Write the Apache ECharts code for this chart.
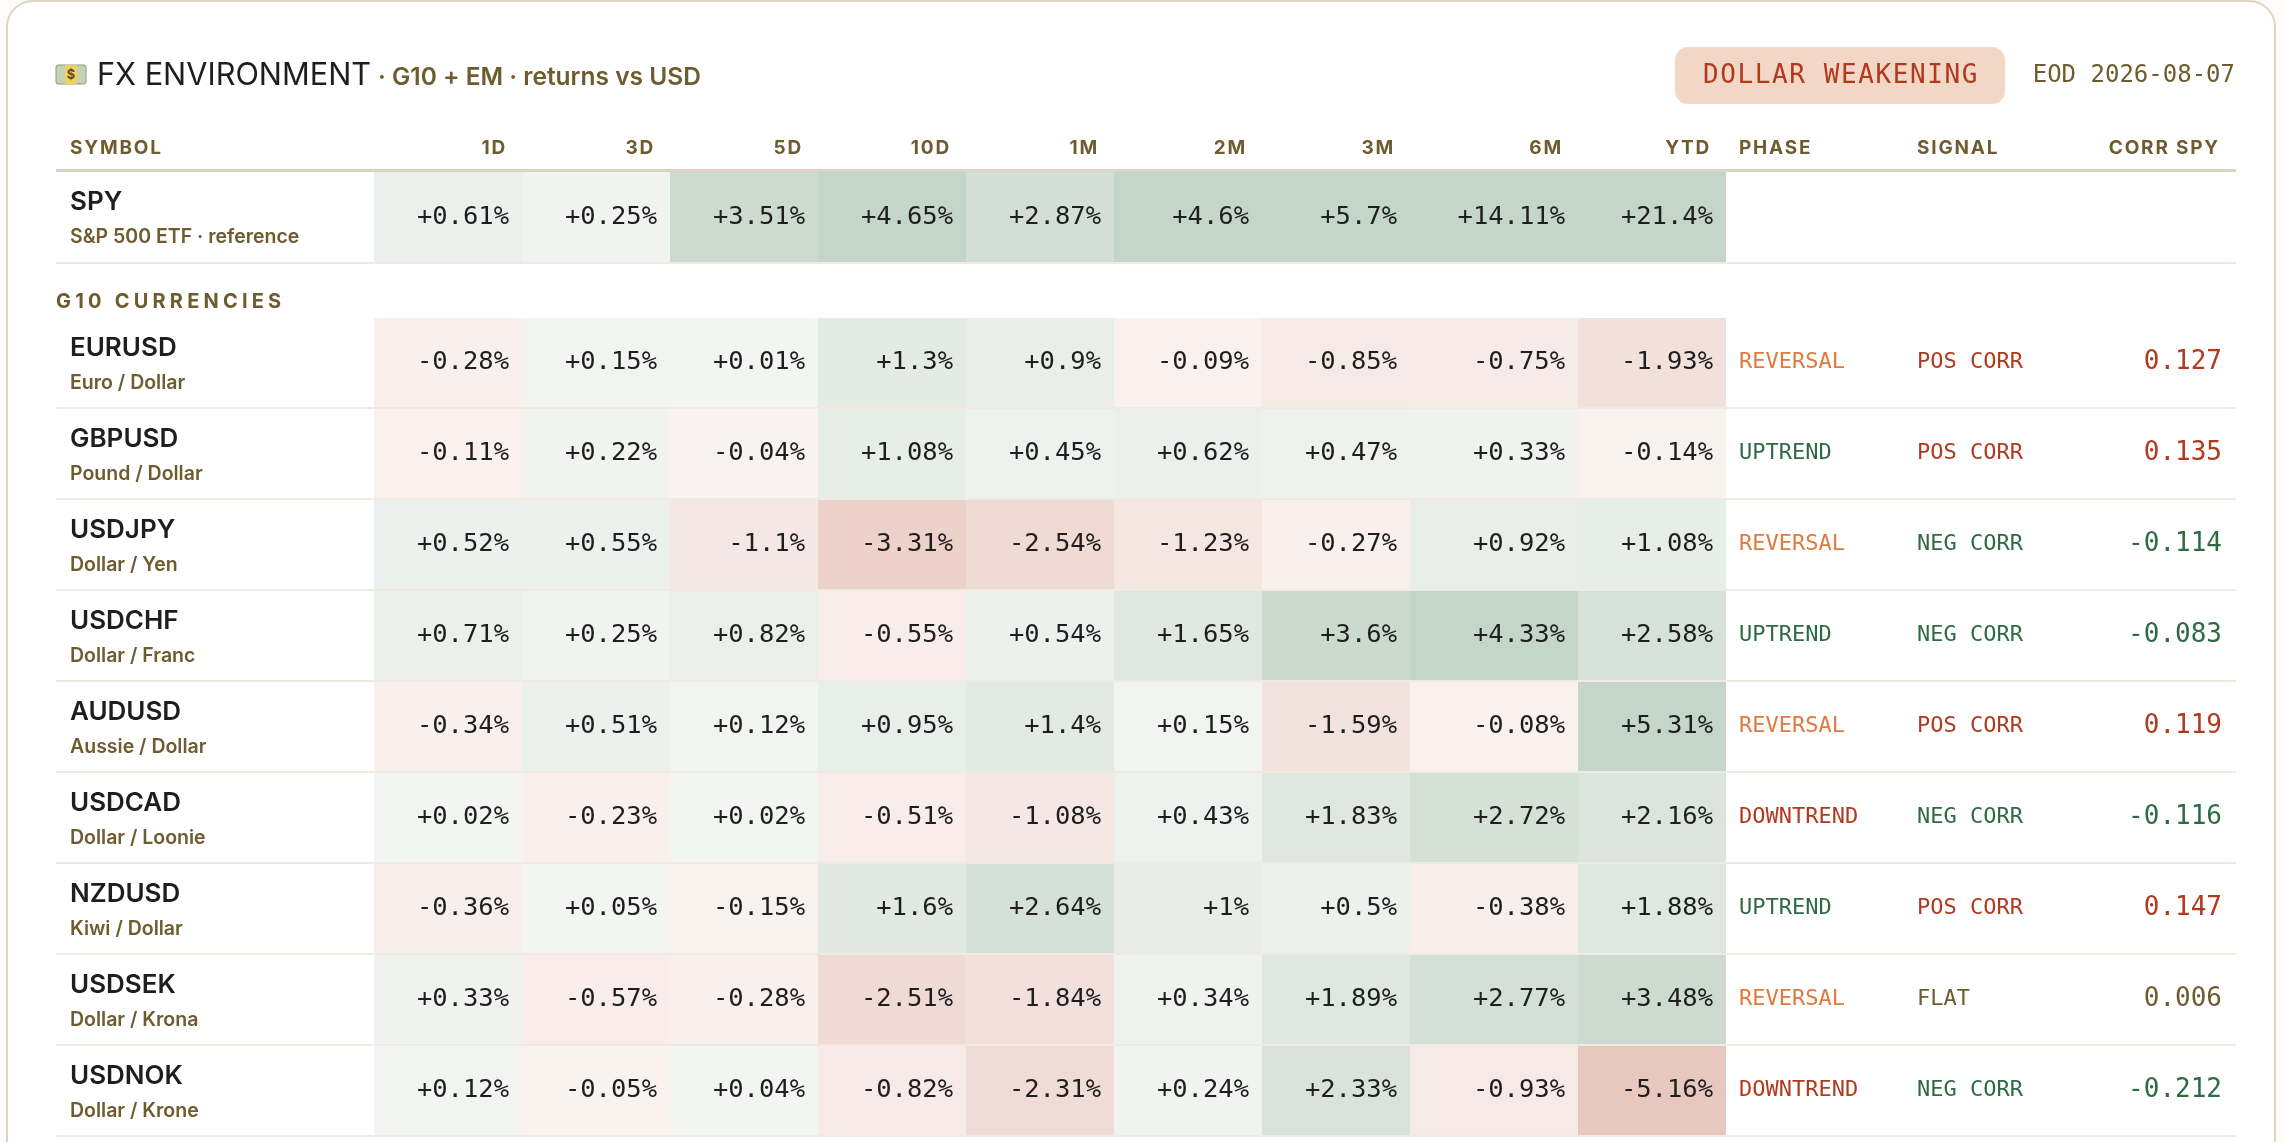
<!DOCTYPE html>
<html>
<head>
<meta charset="utf-8">
<title>FX Environment</title>
<script src="https://cdn.jsdelivr.net/npm/echarts@6/dist/echarts.min.js"></script>
<style>
  html, body { margin: 0; padding: 0; background: #fdfcf9; }
  #fxChart { width: 2284px; height: 1142px; }
</style>
</head>
<body>
<div id="fxChart"></div>
<script>
// ---- data ----
var columns = ['1D', '3D', '5D', '10D', '1M', '2M', '3M', '6M', 'YTD'];
var extraHeads = ['PHASE', 'SIGNAL', 'CORR SPY'];

var spyName = 'SPY';
var spyDesc = 'S&P 500 ETF · reference';
var spyReturns = [0.61, 0.25, 3.51, 4.65, 2.87, 4.6, 5.7, 14.11, 21.4];

var sectionLabel = 'G10 CURRENCIES';
var pairs = ['EURUSD', 'GBPUSD', 'USDJPY', 'USDCHF', 'AUDUSD', 'USDCAD', 'NZDUSD', 'USDSEK', 'USDNOK'];
var pairDesc = ['Euro / Dollar', 'Pound / Dollar', 'Dollar / Yen', 'Dollar / Franc', 'Aussie / Dollar',
    'Dollar / Loonie', 'Kiwi / Dollar', 'Dollar / Krona', 'Dollar / Krone'];
var pairReturns = [
    [-0.28, 0.15, 0.01, 1.3, 0.9, -0.09, -0.85, -0.75, -1.93],
    [-0.11, 0.22, -0.04, 1.08, 0.45, 0.62, 0.47, 0.33, -0.14],
    [0.52, 0.55, -1.1, -3.31, -2.54, -1.23, -0.27, 0.92, 1.08],
    [0.71, 0.25, 0.82, -0.55, 0.54, 1.65, 3.6, 4.33, 2.58],
    [-0.34, 0.51, 0.12, 0.95, 1.4, 0.15, -1.59, -0.08, 5.31],
    [0.02, -0.23, 0.02, -0.51, -1.08, 0.43, 1.83, 2.72, 2.16],
    [-0.36, 0.05, -0.15, 1.6, 2.64, 1, 0.5, -0.38, 1.88],
    [0.33, -0.57, -0.28, -2.51, -1.84, 0.34, 1.89, 2.77, 3.48],
    [0.12, -0.05, 0.04, -0.82, -2.31, 0.24, 2.33, -0.93, -5.16]
];
var phases = ['REVERSAL', 'UPTREND', 'REVERSAL', 'UPTREND', 'REVERSAL', 'DOWNTREND', 'UPTREND', 'REVERSAL', 'DOWNTREND'];
var signals = ['POS CORR', 'POS CORR', 'NEG CORR', 'NEG CORR', 'POS CORR', 'NEG CORR', 'POS CORR', 'FLAT', 'NEG CORR'];
var corrSpy = [0.127, 0.135, -0.114, -0.083, 0.119, -0.116, 0.147, 0.006, -0.212];

var regime = 'DOLLAR WEAKENING';
var asOf = 'EOD 2026-08-07';

// ---- layout (px from table left) ----
var tableLeft = 56, tableWidth = 2180;
var colEdges = [318, 466, 614, 762, 910, 1058, 1206, 1354, 1522, 1670];
var symbolX = 14, phaseX = 1683, signalX = 1861, corrRight = 2166;

var olive = '#6e5c2e', ink = '#1e1e1e';
var phaseColor = { REVERSAL: '#e07a3f', UPTREND: '#2e6b45', DOWNTREND: '#b0391e' };
var signalColor = { 'POS CORR': '#b0391e', 'NEG CORR': '#2e6b45', 'FLAT': olive };

var SANS = 'Inter, "Noto Sans", sans-serif';
var MONO = '"DejaVu Sans Mono", monospace';

// canvas letterSpacing hack: a fake family "lspNN" in the font string = NN/10 px spacing
(function () {
    var proto = CanvasRenderingContext2D.prototype;
    var fill = proto.fillText;
    proto.fillText = function (t, x, y, w) {
        var m = /lsp(\d+)/.exec(this.font);
        if ('letterSpacing' in this) this.letterSpacing = m ? (m[1] / 10) + 'px' : '0px';
        return w === undefined ? fill.call(this, t, x, y) : fill.call(this, t, x, y, w);
    };
})();

function fmtPct(v) { return (v > 0 ? '+' : '') + v + '%'; }

function cellColor(v) {
    var a, b, t;
    if (v >= 0) { t = Math.min(v / 4.2, 1); a = [243, 245, 242]; b = [196, 213, 201]; }
    else { t = Math.min(-v / 4.5, 1); a = [250, 242, 240]; b = [231, 199, 190]; }
    var c = a.map(function (x, i) { return Math.round(x + (b[i] - x) * t); });
    return 'rgb(' + c.join(',') + ')';
}

function txt(text, x, y, font, fill, align) {
    return {
        type: 'text',
        style: {
            text: text, x: x, y: y, font: font, fill: fill,
            align: align || 'left', verticalAlign: 'middle',
            textAlign: align || 'left', textVerticalAlign: 'middle'
        }
    };
}

function renderHeader(params, api) {
    var c = api.coord([0, 0]);
    var h = api.size([0, 1])[1];
    var top = c[1] - h / 2, y = c[1];
    var font = '700 19px lsp18, ' + SANS;
    var kids = [txt('SYMBOL', api.coord([symbolX, 0])[0], y, font, olive)];
    for (var i = 0; i < columns.length; i++) {
        kids.push(txt(columns[i], api.coord([colEdges[i + 1] - 15, 0])[0], y, font, olive, 'right'));
    }
    kids.push(txt(extraHeads[0], api.coord([phaseX, 0])[0], y, font, olive));
    kids.push(txt(extraHeads[1], api.coord([signalX, 0])[0], y, font, olive));
    kids.push(txt(extraHeads[2], api.coord([corrRight - 2, 0])[0], y, font, olive, 'right'));
    kids.push({
        type: 'line',
        shape: { x1: api.coord([0, 0])[0], y1: top + h - 1.5, x2: api.coord([tableWidth, 0])[0], y2: top + h - 1.5 },
        style: { stroke: '#ddd4bf', lineWidth: 3 }
    });
    return { type: 'group', children: kids };
}

function renderCell(params, api) {
    var col = api.value(0), row = api.value(1), v = api.value(2);
    var p0 = api.coord([colEdges[col], row]);
    var p1 = api.coord([colEdges[col + 1], row]);
    var h = api.size([0, 1])[1];
    var top = p0[1] - h / 2;
    return {
        type: 'group',
        children: [
            { type: 'rect', shape: { x: p0[0], y: top, width: p1[0] - p0[0], height: h - 2 }, style: { fill: cellColor(v) } },
            txt(fmtPct(v), p1[0] - 13, top + (h - 2) / 2, '25.5px ' + MONO, ink, 'right')
        ]
    };
}

function rowRenderer(names, descs, withSignals) {
    return function (params, api) {
        var row = api.value(1);
        var c = api.coord([0, row]);
        var h = api.size([0, 1])[1];
        var top = c[1] - h / 2, mid = top + (h - 2) / 2;
        var x0 = c[0];
        var kids = [
            txt(names[row], api.coord([symbolX, row])[0], top + 30, '600 26px ' + SANS, ink),
            txt(descs[row], api.coord([symbolX, row])[0], top + 65, '600 19.5px ' + SANS, olive)
        ];
        if (withSignals) {
            kids.push(txt(phases[row], api.coord([phaseX, row])[0], mid, '22px ' + MONO, phaseColor[phases[row]]));
            kids.push(txt(signals[row], api.coord([signalX, row])[0], mid, '22px ' + MONO, signalColor[signals[row]]));
            kids.push(txt(corrSpy[row].toFixed(3), api.coord([corrRight, row])[0], mid, '26px ' + MONO, signalColor[signals[row]], 'right'));
        }
        kids.push({
            type: 'line',
            shape: { x1: x0, y1: top + h - 1, x2: api.coord([tableWidth, row])[0], y2: top + h - 1 },
            style: { stroke: '#efebe1', lineWidth: 2 }
        });
        return { type: 'group', children: kids };
    };
}

var spyCells = spyReturns.map(function (v, i) { return [i, 0, v]; });
var pairCells = [];
for (var r = 0; r < pairs.length; r++) {
    for (var k = 0; k < columns.length; k++) pairCells.push([k, r, pairReturns[r][k]]);
}

var myChart = echarts.init(document.getElementById('fxChart'), null, { renderer: 'canvas' });

var grids = [
    { left: tableLeft, width: tableWidth, top: 124, height: 48 },
    { left: tableLeft, width: tableWidth, top: 172, height: 92 },
    { left: tableLeft, width: tableWidth, top: 318, height: 91 * pairs.length }
];
var yData = [['head'], [spyName], pairs];

var option = {
    animation: false,
    backgroundColor: '#fdfcf9',
    grid: grids,
    xAxis: grids.map(function (g, i) {
        return { type: 'value', gridIndex: i, min: 0, max: tableWidth, show: false };
    }),
    yAxis: grids.map(function (g, i) {
        return { type: 'category', gridIndex: i, data: yData[i], inverse: true, show: false };
    }),
    graphic: [
        { type: 'rect', z: 0, shape: { x: 7, y: 1, width: 2268, height: 1300, r: 26 },
          style: { fill: '#ffffff', stroke: '#ded5c0', lineWidth: 2 } },
        // banknote icon
        { type: 'rect', z: 1, shape: { x: 56, y: 65, width: 30, height: 19, r: 2 },
          style: { fill: '#c7d1b4', stroke: '#8f9b7b', lineWidth: 1 } },
        { type: 'rect', z: 1, shape: { x: 65, y: 65, width: 12, height: 19 }, style: { fill: '#eed25c' } },
        { type: 'text', z: 2, style: { text: '$', x: 71, y: 75, font: '700 13px ' + SANS, fill: '#5a4a18',
            align: 'center', verticalAlign: 'middle', textAlign: 'center', textVerticalAlign: 'middle' } },
        { type: 'text', z: 1, style: { text: 'FX ENVIRONMENT', x: 97, y: 76, font: '400 30.7px ' + SANS, fill: ink,
            verticalAlign: 'middle', textVerticalAlign: 'middle' } },
        { type: 'text', z: 1, style: { text: '· G10 + EM · returns vs USD', x: 378, y: 78, font: '600 24.5px ' + SANS, fill: olive,
            verticalAlign: 'middle', textVerticalAlign: 'middle' } },
        { type: 'rect', z: 1, shape: { x: 1675, y: 47, width: 330, height: 57, r: 13 }, style: { fill: '#f2d7c6' } },
        { type: 'text', z: 2, style: { text: regime, x: 1841, y: 76, font: '26px lsp16, ' + MONO, fill: '#b0391e',
            align: 'center', verticalAlign: 'middle', textAlign: 'center', textVerticalAlign: 'middle' } },
        { type: 'text', z: 1, style: { text: asOf, x: 2235, y: 76, font: '24px ' + MONO, fill: olive,
            align: 'right', verticalAlign: 'middle', textAlign: 'right', textVerticalAlign: 'middle' } },
        { type: 'text', z: 1, style: { text: sectionLabel, x: 56, y: 302, font: '700 20px lsp42, ' + SANS, fill: olive,
            verticalAlign: 'middle', textVerticalAlign: 'middle' } }
    ],
    series: [
        { type: 'custom', name: 'header', xAxisIndex: 0, yAxisIndex: 0, silent: true, clip: false,
          renderItem: renderHeader, data: [[0, 0]] },
        { type: 'custom', name: 'spyCells', xAxisIndex: 1, yAxisIndex: 1, silent: true,
          renderItem: renderCell, data: spyCells },
        { type: 'custom', name: 'spyRow', xAxisIndex: 1, yAxisIndex: 1, silent: true, clip: false,
          renderItem: rowRenderer([spyName], [spyDesc], false), data: [[0, 0]] },
        { type: 'custom', name: 'pairCells', xAxisIndex: 2, yAxisIndex: 2, silent: true,
          renderItem: renderCell, data: pairCells },
        { type: 'custom', name: 'pairRows', xAxisIndex: 2, yAxisIndex: 2, silent: true, clip: false,
          renderItem: rowRenderer(pairs, pairDesc, true),
          data: pairs.map(function (p, i) { return [0, i]; }) }
    ]
};
myChart.setOption(option);
window.onresize = myChart.resize;
</script>
</body>
</html>
